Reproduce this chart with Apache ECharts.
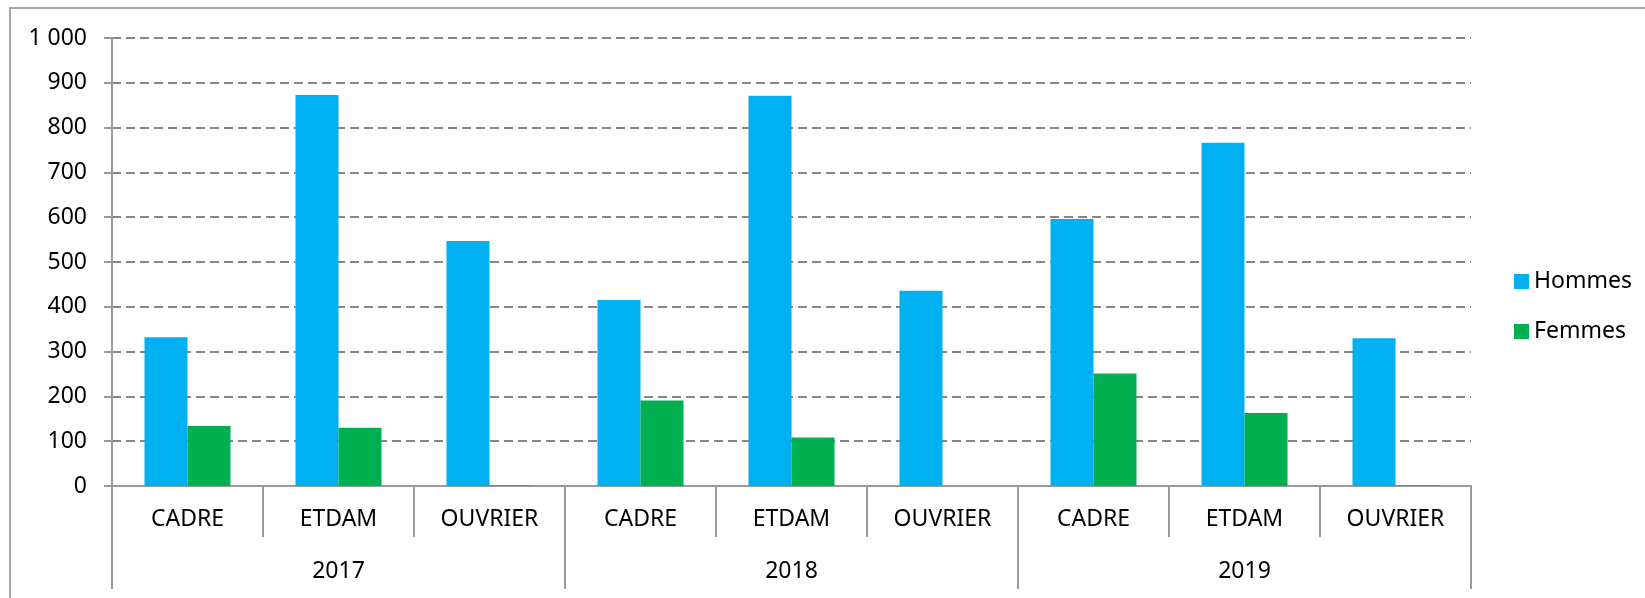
<!DOCTYPE html>
<html>
<head>
<meta charset="utf-8">
<script src="https://cdn.jsdelivr.net/npm/echarts@6/dist/echarts.min.js"></script>
<style>
  html, body { margin: 0; padding: 0; background: #fff; }
  #barchart { width: 1645px; height: 598px; }
</style>
</head>
<body>
<div id="barchart"></div>
<script>
// chart values
var categories = ['CADRE', 'ETDAM', 'OUVRIER', 'CADRE', 'ETDAM', 'OUVRIER', 'CADRE', 'ETDAM', 'OUVRIER'];
var years = ['2017', '2018', '2019'];
var hommes = [332, 873, 547, 415, 871, 436, 596, 766, 330];
var femmes = [134, 130, 1, 191, 108, 0, 251, 163, 1];

var font = '"Noto Sans", sans-serif';
var gray = '#9a9a9a';

var chart = echarts.init(document.getElementById('barchart'));
chart.setOption({
    backgroundColor: '#fff',
    textStyle: { fontFamily: font, color: '#000' },
    graphic: [{
        type: 'rect',
        shape: { x: 10, y: 8, width: 1700, height: 700 },
        style: { fill: 'none', stroke: '#a6a6a6', lineWidth: 2 },
        silent: true
    }],
    grid: {
        left: 112,
        top: 38,
        right: 174,
        bottom: 112
    },
    legend: {
        orient: 'vertical',
        left: 1509,
        top: 265,
        itemWidth: 15,
        itemHeight: 15,
        itemGap: 27,
        icon: 'rect',
        textStyle: { fontFamily: font, fontSize: 23, color: '#000', lineHeight: 22 },
        data: ['Hommes', 'Femmes']
    },
    xAxis: [{
        type: 'category',
        position: 'bottom',
        data: categories,
        axisLine: { lineStyle: { color: gray, width: 2 } },
        axisTick: { show: true, interval: 0, length: 51, lineStyle: { color: gray, width: 2 } },
        axisLabel: { interval: 0, margin: 22, fontSize: 23, color: '#000', fontFamily: font }
    }, {
        type: 'category',
        position: 'bottom',
        data: years,
        axisLine: { lineStyle: { color: gray, width: 2 } },
        axisTick: { show: true, interval: 0, length: 103, lineStyle: { color: gray, width: 2 } },
        axisLabel: { interval: 0, margin: 74, fontSize: 23, color: '#000', fontFamily: font }
    }],
    yAxis: {
        type: 'value',
        min: 0,
        max: 1000,
        interval: 100,
        axisLine: { show: true, lineStyle: { color: gray, width: 2 } },
        axisTick: { show: true, length: 8, lineStyle: { color: gray, width: 2 } },
        axisLabel: {
            margin: 25,
            fontSize: 23,
            color: '#000',
            fontFamily: font,
            formatter: function (v) {
                return String(v).replace(/\B(?=(\d{3})+(?!\d))/g, ' ');
            }
        },
        splitLine: {
            lineStyle: { color: '#868686', width: 2, type: [9, 5] }
        }
    },
    series: [{
        name: 'Hommes',
        type: 'bar',
        xAxisIndex: 0,
        data: hommes,
        barWidth: 43,
        barGap: '0%',
        itemStyle: { color: '#00B0F0' }
    }, {
        name: 'Femmes',
        type: 'bar',
        xAxisIndex: 0,
        data: femmes,
        barWidth: 43,
        barGap: '0%',
        itemStyle: { color: '#00B050' }
    }]
});
</script>
</body>
</html>
